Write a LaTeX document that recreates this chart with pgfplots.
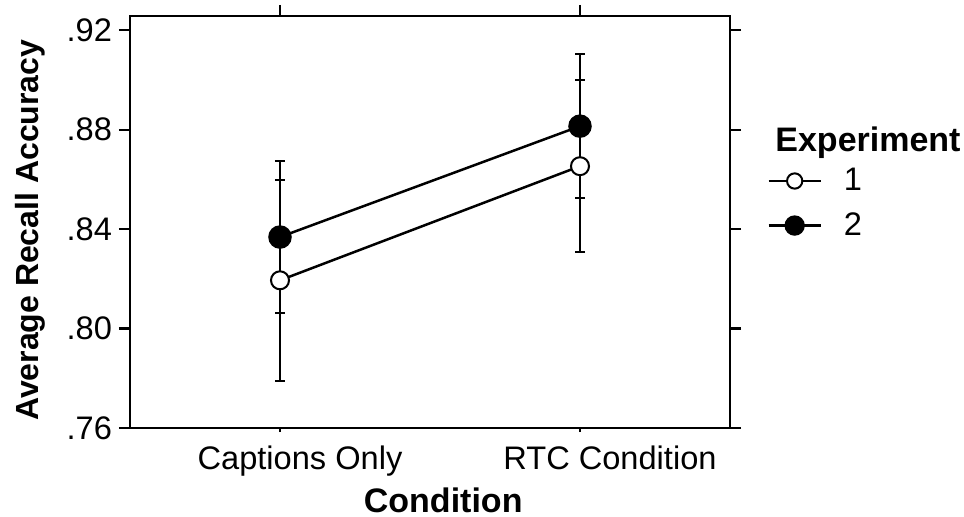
\documentclass[border=0pt]{standalone}
\usepackage{fontspec}
\setmainfont{Liberation Sans}
\usepackage{pgfplots}
\pgfplotsset{compat=1.18}
\begin{document}
\begin{tikzpicture}
\useasboundingbox (-65bp,-44.5bp) rectangle (417bp,214bp);
\begin{axis}[
  at={(0,0)}, anchor=south west,
  scale only axis, width=300bp, height=206bp,
  xmin=-0.5, xmax=1.5, ymin=0.76, ymax=0.9257,
  xtick={0,1}, xticklabels={Captions Only, \hspace*{10bp}RTC Condition},
  ytick={0.76,0.80,0.84,0.88,0.92}, yticklabels={.76,.80,.84,.88,.92},
  tick align=outside, xtick pos=top, xticklabel pos=bottom, ytick pos=both,
  major tick length=5.5bp,
  extra x ticks={0,1}, extra x tick labels={},
  extra x tick style={xtick pos=bottom, major tick length=2bp},
  axis line style={line width=1.1bp},
  every tick/.style={black, line width=1.1bp},
  tick label style={font=\fontsize{16.3bp}{19bp}\selectfont},
  xticklabel style={xshift=10bp},
  xlabel={Condition}, ylabel={Average Recall Accuracy},
  label style={font=\fontsize{16bp}{19bp}\selectfont\bfseries},
  xlabel style={at={(axis description cs:0.522,-0.175)}, anchor=center, font=\fontsize{17bp}{19bp}\selectfont\bfseries},
  ylabel style={at={(axis description cs:-0.1667,0.48)}, anchor=center},
  legend style={at={(axis description cs:1.0617,0.641)}, anchor=north west,
    draw=none, fill=none, inner sep=0pt, row sep=5.5bp,
    font=\fontsize{16.3bp}{19bp}\selectfont,
    /tikz/every odd column/.append style={column sep=9bp}},
  legend cell align=left,
  legend image code/.code={\draw[mark repeat=2, mark phase=2, every mark/.append style={scale=0.85}] plot coordinates {(0bp,0bp) (13bp,0bp) (26bp,0bp)};},
  clip=false,
]
\addplot[black, line width=1.25bp, mark=*, mark options={fill=white, line width=1bp, mark size=4.5bp}]
  coordinates {(0,0.8194) (1,0.8653)};
\addlegendentry{1}
\addplot[black, line width=1.25bp, mark=*, mark options={fill=black, mark size=5.25bp}]
  coordinates {(0,0.8368) (1,0.8814)};
\addlegendentry{2}
\addplot[forget plot, draw=none, mark=none,
  error bars/.cd, y dir=both, y explicit,
  error bar style={draw=black, line width=1bp},
  error mark options={draw=black, rotate=90, mark size=2.5bp, line width=1bp}]
  coordinates {(0,0.8194) +- (0,0.0403) (1,0.8653) +- (0,0.0345)};
\addplot[forget plot, draw=none, mark=none,
  error bars/.cd, y dir=both, y explicit,
  error bar style={draw=black, line width=1bp},
  error mark options={draw=black, rotate=90, mark size=2.5bp, line width=1bp}]
  coordinates {(0,0.8368) +- (0,0.0307) (1,0.8814) +- (0,0.0290)};
\node[anchor=west, font=\fontsize{17bp}{19bp}\selectfont\bfseries, inner sep=0pt]
  at (axis description cs:1.075,0.692) {Experiment};
\end{axis}
\end{tikzpicture}
\end{document}
